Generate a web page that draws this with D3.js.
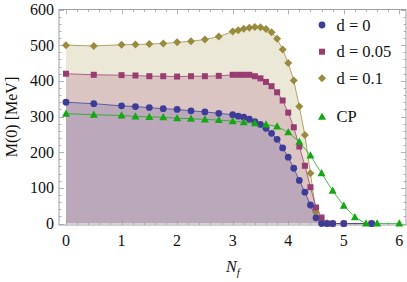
<!DOCTYPE html>
<html><head><meta charset="utf-8">
<script src="https://cdn.jsdelivr.net/npm/d3@7"></script>
<style>body{margin:0;background:#fff}svg{display:block}</style>
</head><body>
<svg id="chart" width="407" height="282"></svg>
<script>
// ---- data ----
const nfD = [0,0.5,1,1.25,1.5,1.75,2,2.25,2.5,2.75,3,3.1,3.2,3.3,3.4,3.5,3.6,3.7,3.8,3.9,4.0,4.1,4.2,4.3,4.4,4.5,4.6,4.7,4.8,5.0,5.5];
const mD0   = [340,336,330,328,325,322,320,316,313,309,305,301,298,293,286,278,267,253,236,212,186,155,121,88,52,16,0,0,0,0,0];
const mD005 = [420,417,416,415,413,413,412,413,413,414,417,417,417,417,413,407,397,385,368,345,311,270,216,162,102,45,17,0,0,0,0];
const mD01  = [500,498,501,502,503,505,508,511,516,524,538,542,546,549,551,550,545,536,518,488,450,401,328,248,141,32,8,1,0,0,0];
const nfCP = [0,0.5,1,1.25,1.5,1.75,2,2.25,2.5,2.75,3,3.2,3.4,3.6,3.8,4.0,4.2,4.4,4.6,4.8,5.0,5.2,5.4,5.6,6.0];
const mCP  = [308,305,303,300,299,298,295,294,292,290,287,284,281,278,272,256,229,191,141,92,50,18,0,0,0];
const legendLabels = ["d = 0","d = 0.05","d = 0.1","CP"];
const xTicks = [0,1,2,3,4,5,6];
const yTicks = [0,100,200,300,400,500,600];

const colors = ["#3d3d99","#993d71","#998b3d","#14a814"];
const svg = d3.select("#chart");
const L=59, R=406, T=9.5, B=225;
const x = d3.scaleLinear().domain([-0.126,6.12]).range([L,R]);
const y = d3.scaleLinear().domain([-4,600]).range([B,T]);
const font = "'Liberation Serif', 'Times New Roman', serif";

const series = [
  {nf:nfD, m:mD01, c:colors[2]},
  {nf:nfD, m:mD005, c:colors[1]},
  {nf:nfD, m:mD0, c:colors[0]},
];
// fills
series.forEach(s=>{
  const pts = s.nf.map((v,i)=>[v,s.m[i]]);
  svg.append("path").datum(pts)
    .attr("d", d3.area().x(d=>x(d[0])).y0(y(0)).y1(d=>y(d[1])))
    .attr("fill", s.c).attr("fill-opacity",0.2).attr("stroke","none");
});
// frame
svg.append("rect").attr("x",L).attr("y",T).attr("width",R-L).attr("height",B-T)
  .attr("fill","none").attr("stroke","#a0a0a0").attr("stroke-width",1);
// ticks
const tk = svg.append("g").attr("stroke","#a0a0a0").attr("stroke-width",0.8);
d3.range(0,6.01,0.2).forEach(v=>{
  const major = Math.abs(v-Math.round(v))<1e-6;
  const len = major?5:2.5;
  const xx = Math.round(x(v))+0.5;
  tk.append("line").attr("x1",xx).attr("x2",xx).attr("y1",B).attr("y2",B-len);
  tk.append("line").attr("x1",xx).attr("x2",xx).attr("y1",T).attr("y2",T+len);
});
d3.range(0,600.1,20).forEach(v=>{
  const major = v%100===0;
  const len = major?5:2.5;
  const yy = Math.round(y(v))+0.5;
  tk.append("line").attr("y1",yy).attr("y2",yy).attr("x1",L).attr("x2",L+len);
  tk.append("line").attr("y1",yy).attr("y2",yy).attr("x1",R).attr("x2",R-len);
});
// tick labels
svg.append("g").selectAll("text").data(xTicks).join("text")
  .attr("x",d=>x(d)).attr("y",246).attr("text-anchor","middle")
  .attr("font-family",font).attr("font-size",16).attr("fill","#111").text(d=>d);
svg.append("g").selectAll("text").data(yTicks).join("text")
  .attr("x",54).attr("y",d=>y(d)+5.5).attr("text-anchor","end")
  .attr("font-family",font).attr("font-size",16).attr("fill","#111").text(d=>d);
// axis labels
svg.append("text").attr("transform","translate(17,117) rotate(-90)")
  .attr("text-anchor","middle").attr("font-family",font).attr("font-size",16).attr("fill","#111")
  .text("M(0) [MeV]");
const xl = svg.append("text").attr("x",226).attr("y",272).attr("font-family",font)
  .attr("font-size",16).attr("font-style","italic").attr("fill","#111");
xl.append("tspan").text("N");
xl.append("tspan").attr("font-size",11).attr("dy",4).text("f");

// lines + markers
function marker(g, shape, c, cx, cy){
  if(shape==="circle") g.append("circle").attr("cx",cx).attr("cy",cy).attr("r",3.4).attr("fill",c);
  else if(shape==="square") g.append("rect").attr("x",cx-3).attr("y",cy-3).attr("width",6).attr("height",6).attr("fill",c);
  else if(shape==="diamond") g.append("path").attr("d",`M${cx},${cy-4}L${cx+4},${cy}L${cx},${cy+4}L${cx-4},${cy}Z`).attr("fill",c);
  else g.append("path").attr("d",`M${cx},${cy-4.2}L${cx+4},${cy+3}L${cx-4},${cy+3}Z`).attr("fill",c);
}
const allSeries = [
  {nf:nfD, m:mD01, c:colors[2], shape:"diamond"},
  {nf:nfD, m:mD005, c:colors[1], shape:"square"},
  {nf:nfD, m:mD0, c:colors[0], shape:"circle"},
  {nf:nfCP, m:mCP, c:colors[3], shape:"triangle"},
];
const line = d3.line().x(d=>x(d[0])).y(d=>y(d[1]));
allSeries.forEach(s=>{
  const pts = s.nf.map((v,i)=>[v,s.m[i]]);
  svg.append("path").datum(pts).attr("d",line).attr("fill","none")
    .attr("stroke",s.c).attr("stroke-width",0.9).attr("stroke-opacity",0.85);
});
allSeries.forEach(s=>{
  const g = svg.append("g");
  s.nf.forEach((v,i)=>marker(g,s.shape,s.c,x(v),y(s.m[i])));
});
// legend
const legY = [25,51.7,78.3,116.7];
const legShapes = ["circle","square","diamond","triangle"];
legendLabels.forEach((t,i)=>{
  const g = svg.append("g");
  marker(g, legShapes[i], colors[i], 322, legY[i]);
  g.append("text").attr("x",336.5).attr("y",legY[i]+5.5).attr("font-family",font)
    .attr("font-size",16.5).attr("fill","#111").text(t);
});
</script>
</body></html>
